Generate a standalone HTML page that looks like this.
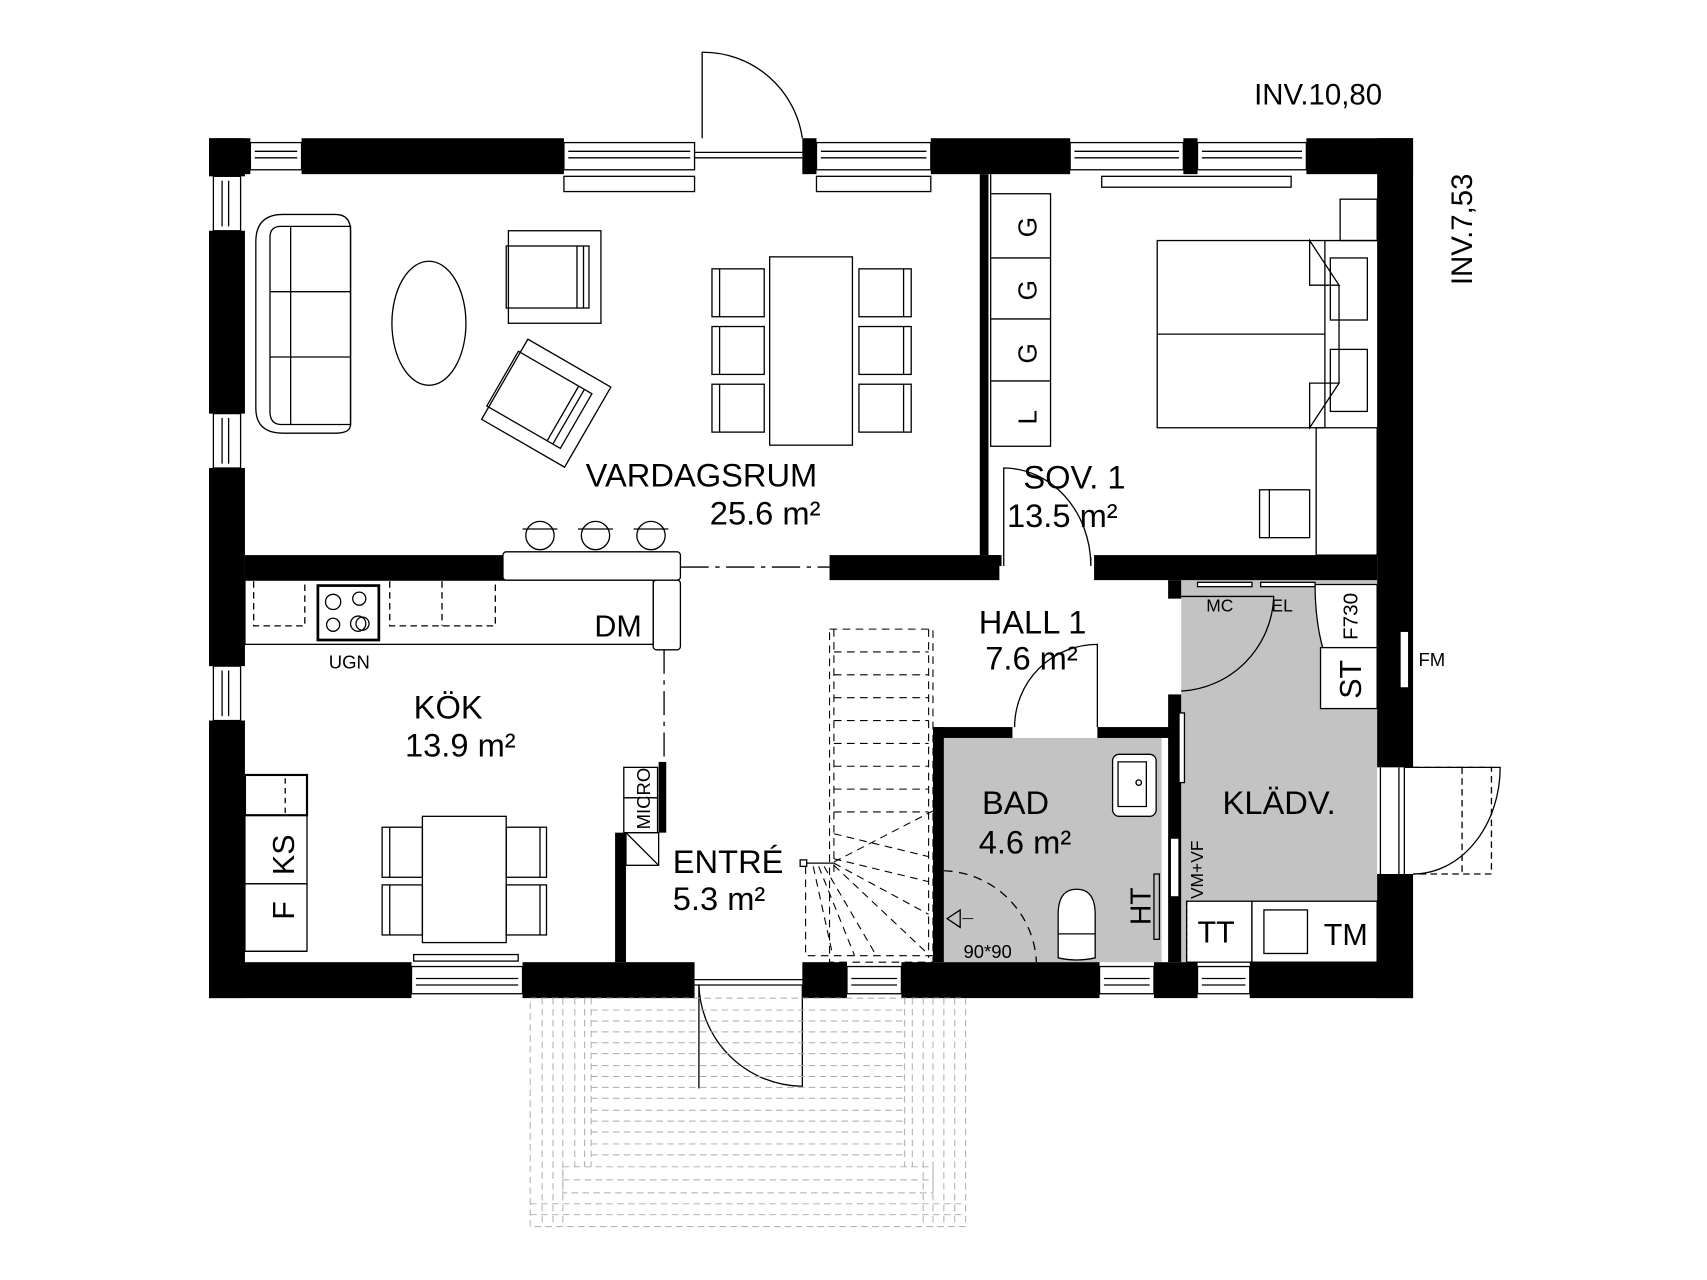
<!DOCTYPE html>
<html><head><meta charset="utf-8"><style>
html,body{margin:0;padding:0;background:#fff;}
svg{display:block;}
text{font-family:"Liberation Sans Narrow","Liberation Sans",sans-serif;fill:#000;}
</style></head><body>
<svg width="1707" height="1280" viewBox="0 0 1568 1176" preserveAspectRatio="none" xmlns="http://www.w3.org/2000/svg">
<g fill="none" stroke="#000" stroke-width="1.2">

<!-- gray areas -->
<rect x="867" y="678" width="200" height="206" fill="#c3c3c3" stroke="none"/>
<rect x="1085" y="533" width="180" height="351" fill="#c3c3c3" stroke="none"/>

<!-- outer walls -->
<g fill="#000" stroke="none">
<!-- top -->
<rect x="192" y="127" width="38" height="33"/>
<rect x="277" y="127" width="241" height="33"/>
<rect x="737" y="127" width="13" height="33"/>
<rect x="855" y="127" width="128" height="33"/>
<rect x="1087" y="127" width="13" height="33"/>
<rect x="1200" y="127" width="98" height="33"/>
<!-- left -->
<rect x="192" y="127" width="33" height="35"/>
<rect x="192" y="212" width="33" height="168"/>
<rect x="192" y="430" width="33" height="182"/>
<rect x="192" y="662" width="33" height="255"/>
<!-- right -->
<rect x="1265" y="127" width="33" height="578"/>
<rect x="1265" y="803" width="33" height="114"/>
<!-- bottom -->
<rect x="192" y="884" width="186" height="33"/>
<rect x="480" y="884" width="158" height="33"/>
<rect x="737" y="884" width="41" height="33"/>
<rect x="828" y="884" width="182" height="33"/>
<rect x="1060" y="884" width="40" height="33"/>
<rect x="1148" y="884" width="150" height="33"/>
<!-- interior -->
<rect x="900" y="160" width="8" height="350"/>
<rect x="225" y="510" width="237" height="23"/>
<rect x="762" y="510" width="156" height="23"/>
<rect x="1005" y="510" width="260" height="23"/>
<rect x="908" y="510" width="12" height="10"/>
<rect x="1073" y="533" width="12" height="17"/>
<rect x="1073" y="638" width="12" height="246"/>
<rect x="857" y="668" width="10" height="216"/>
<rect x="857" y="668" width="73" height="10"/>
<rect x="1008" y="668" width="67" height="10"/>
<rect x="605" y="700" width="7" height="65"/>
<rect x="565" y="765" width="10" height="119"/>
</g>
<rect x="1286" y="580" width="8" height="52" fill="#fff"/>
<rect x="1075" y="770" width="8" height="54" fill="#fff"/>
<rect x="1083" y="655" width="5" height="64" fill="#fff"/>

<!-- windows top -->
<g>
<rect x="230" y="131" width="47" height="25"/><line x1="234" y1="139" x2="273" y2="139"/><line x1="234" y1="145" x2="273" y2="145"/>
<rect x="518" y="131" width="120" height="25"/><line x1="522" y1="139" x2="634" y2="139"/><line x1="522" y1="145" x2="634" y2="145"/>
<rect x="750" y="131" width="105" height="25"/><line x1="754" y1="139" x2="851" y2="139"/><line x1="754" y1="145" x2="851" y2="145"/>
<rect x="983" y="131" width="104" height="25"/><line x1="987" y1="139" x2="1083" y2="139"/><line x1="987" y1="145" x2="1083" y2="145"/>
<rect x="1100" y="131" width="100" height="25"/><line x1="1104" y1="139" x2="1196" y2="139"/><line x1="1104" y1="145" x2="1196" y2="145"/>
<line x1="638" y1="140" x2="737" y2="140"/><line x1="638" y1="145" x2="737" y2="145"/>
<!-- sills -->
<rect x="518" y="162" width="120" height="14"/>
<rect x="750" y="162" width="105" height="14"/>
<rect x="1012" y="162" width="174" height="10"/>
<!-- left windows -->
<rect x="196" y="162" width="25" height="50"/><line x1="204" y1="166" x2="204" y2="208"/><line x1="210" y1="166" x2="210" y2="208"/>
<rect x="196" y="380" width="25" height="50"/><line x1="204" y1="384" x2="204" y2="426"/><line x1="210" y1="384" x2="210" y2="426"/>
<rect x="196" y="612" width="25" height="50"/><line x1="204" y1="616" x2="204" y2="658"/><line x1="210" y1="616" x2="210" y2="658"/>
<!-- bottom windows -->
<rect x="378" y="888" width="102" height="25"/><line x1="382" y1="899" x2="476" y2="899"/><line x1="382" y1="905" x2="476" y2="905"/>
<rect x="778" y="888" width="50" height="25"/><line x1="782" y1="899" x2="824" y2="899"/><line x1="782" y1="905" x2="824" y2="905"/>
<rect x="1010" y="888" width="50" height="25"/><line x1="1014" y1="899" x2="1056" y2="899"/><line x1="1014" y1="905" x2="1056" y2="905"/>
<rect x="1100" y="888" width="48" height="25"/><line x1="1104" y1="899" x2="1144" y2="899"/><line x1="1104" y1="905" x2="1144" y2="905"/>
<rect x="380" y="877" width="96" height="6"/>
<line x1="638" y1="900" x2="737" y2="900"/><line x1="638" y1="905" x2="737" y2="905"/>
<!-- right door -->
<line x1="1268" y1="705" x2="1268" y2="803"/><line x1="1285" y1="705" x2="1285" y2="803"/><line x1="1290" y1="705" x2="1290" y2="803"/>
</g>

<!-- doors -->
<path d="M645 127 V48 A92 92 0 0 1 737 127"/>
<path d="M642 905 V1000 ... "/>
<path d="M642 905 A96 96 0 0 0 737 998 V905"/>
<path d="M1298 803 A80 98 0 0 0 1378 705 H1290" stroke-dasharray="0"/>
<path d="M1298 705 H1370 V803 H1298" stroke-dasharray="6 4"/>
<line x1="1343" y1="705" x2="1343" y2="803" stroke-dasharray="6 4"/>
<path d="M922 520 V430 A80 90 0 0 1 1002 518"/>
<line x1="1002" y1="512" x2="1002" y2="520"/>
<path d="M1085 635 A90 90 0 0 0 1170 548 H1085"/>
<path d="M932 668 A76 76 0 0 1 1008 592 V668"/>
<path d="M867 800 A88 88 0 0 1 952 884" stroke-dasharray="8 6"/>
<path d="M882 836 L870 844 L882 852 Z"/><line x1="884" y1="844" x2="894" y2="844" stroke-width="0.8"/>

<!-- living room furniture -->
<path d="M260 197 H308 Q322 197 322 212 V390 Q322 398 308 398 H260 Q235 398 235 375 V222 Q235 197 260 197 Z"/>
<path d="M258 208 H322 V390 H258 Q248 390 248 378 V218 Q248 208 258 208 Z"/>
<line x1="267" y1="208" x2="267" y2="390"/>
<line x1="248" y1="268" x2="322" y2="268"/><line x1="248" y1="328" x2="322" y2="328"/>
<ellipse cx="394" cy="297" rx="34" ry="57"/>
<rect x="467" y="212" width="85" height="85"/>
<rect x="465" y="226" width="76" height="57"/>
<line x1="530" y1="226" x2="530" y2="283"/><line x1="536" y1="226" x2="536" y2="283"/>
<g transform="rotate(30 502 370)">
<rect x="458" y="328" width="88" height="85"/>
<rect x="456" y="342" width="78" height="58"/>
<line x1="520" y1="342" x2="520" y2="400"/><line x1="526" y1="342" x2="526" y2="400"/>
</g>
<rect x="707" y="236" width="76" height="173"/>
<g>
<rect x="654" y="247" width="48" height="44"/><line x1="654" y1="256" x2="702" y2="256" transform="rotate(90 0 0) translate(0 0)" stroke="none"/>
<rect x="654" y="300" width="48" height="44"/>
<rect x="654" y="353" width="48" height="44"/>
<rect x="789" y="247" width="48" height="44"/>
<rect x="789" y="300" width="48" height="44"/>
<rect x="789" y="353" width="48" height="44"/>
<line x1="661" y1="247" x2="661" y2="291"/><line x1="661" y1="300" x2="661" y2="344"/><line x1="661" y1="353" x2="661" y2="397"/>
<line x1="830" y1="247" x2="830" y2="291"/><line x1="830" y1="300" x2="830" y2="344"/><line x1="830" y1="353" x2="830" y2="397"/>
</g>
<!-- bar stools -->
<circle cx="496" cy="492" r="13"/><circle cx="547" cy="492" r="13"/><circle cx="598" cy="492" r="13"/>
<line x1="480" y1="486" x2="512" y2="486"/><line x1="531" y1="486" x2="563" y2="486"/><line x1="582" y1="486" x2="614" y2="486"/>
<rect x="462" y="507" width="163" height="26" rx="3" fill="#fff"/>
<line x1="625" y1="521" x2="762" y2="521" stroke-dasharray="26 6 4 6"/>

<!-- bedroom -->
<rect x="910" y="178" width="55" height="232"/>
<line x1="910" y1="237" x2="965" y2="237"/><line x1="910" y1="293" x2="965" y2="293"/><line x1="910" y1="350" x2="965" y2="350"/>
<line x1="910" y1="160" x2="910" y2="178"/>
<rect x="1063" y="221" width="154" height="172"/>
<line x1="1063" y1="307" x2="1217" y2="307"/>
<path d="M1203 221 L1230 262 H1203 Z"/><path d="M1203 393 L1230 352 H1203 Z"/>
<line x1="1230" y1="262" x2="1230" y2="352"/>
<rect x="1231" y="183" width="34" height="38"/>
<rect x="1222" y="237" width="34" height="57"/>
<rect x="1222" y="321" width="34" height="57"/>
<line x1="1217" y1="221" x2="1265" y2="221"/>
<rect x="1209" y="393" width="56" height="117"/>
<rect x="1157" y="450" width="46" height="44"/><line x1="1166" y1="450" x2="1166" y2="494"/>

<!-- kitchen -->
<rect x="225" y="533" width="375" height="59"/>
<rect x="600" y="533" width="25" height="64" rx="3"/>
<rect x="292" y="538" width="56" height="50" stroke-width="2.5"/>
<circle cx="306" cy="553" r="7"/><circle cx="330" cy="550" r="6"/><circle cx="306" cy="574" r="6"/><circle cx="329" cy="573" r="7"/><circle cx="333" cy="573" r="6"/>
<path d="M233 534 V575 H280 V534" stroke-dasharray="6 4"/>
<path d="M358 534 V575 H455 V534" stroke-dasharray="6 4"/><line x1="406" y1="534" x2="406" y2="575" stroke-dasharray="6 4"/>
<line x1="610" y1="597" x2="610" y2="700" stroke-dasharray="22 6 4 6"/>
<rect x="225" y="712" width="57" height="37" stroke-width="2"/><line x1="262" y1="715" x2="262" y2="749" stroke-dasharray="5 4"/>
<rect x="225" y="749" width="57" height="63"/>
<rect x="225" y="812" width="57" height="62"/>
<line x1="225" y1="874" x2="282" y2="874"/>
<rect x="388" y="750" width="77" height="116"/>
<rect x="351" y="760" width="37" height="46"/><rect x="351" y="813" width="37" height="46"/>
<rect x="465" y="760" width="37" height="46"/><rect x="465" y="813" width="37" height="46"/>
<line x1="358" y1="760" x2="358" y2="806"/><line x1="358" y1="813" x2="358" y2="859"/>
<line x1="496" y1="760" x2="496" y2="806"/><line x1="496" y1="813" x2="496" y2="859"/>
<rect x="573" y="705" width="31" height="28"/><rect x="573" y="733" width="31" height="32"/>
<rect x="575" y="765" width="30" height="30"/><line x1="575" y1="765" x2="605" y2="795"/>

<!-- stairs -->
<g stroke-dasharray="7 5" stroke-width="1">
<rect x="762" y="578" width="95" height="306"/>
<line x1="766" y1="578" x2="766" y="0" y2="803"/>
<line x1="853" y1="578" x2="853" y2="880"/>
<line x1="766" y1="599" x2="853" y2="599"/><line x1="766" y1="620" x2="853" y2="620"/>
<line x1="766" y1="641" x2="853" y2="641"/><line x1="766" y1="662" x2="853" y2="662"/>
<line x1="766" y1="683" x2="853" y2="683"/><line x1="766" y1="704" x2="853" y2="704"/>
<line x1="766" y1="725" x2="853" y2="725"/><line x1="766" y1="746" x2="853" y2="746"/>
<line x1="766" y1="766" x2="853" y2="787"/><line x1="766" y1="789" x2="853" y2="810"/>
<line x1="766" y1="793" x2="853" y2="840"/><line x1="766" y1="795" x2="853" y2="877"/>
<line x1="757" y1="796" x2="805" y2="878"/><line x1="752" y1="796" x2="785" y2="878"/>
<line x1="747" y1="796" x2="765" y2="878"/>
<line x1="766" y1="792" x2="857" y2="745"/>
<path d="M740 796 V878 H857"/>
</g>
<rect x="735" y="790" width="6" height="6"/>
<line x1="741" y1="793" x2="766" y2="793"/>

<!-- terrace -->
<g stroke="#aaa" stroke-width="0.9" stroke-dasharray="6 4">
<rect x="487" y="917" width="400" height="210"/>
<rect x="517" y="1072" width="340" height="24"/>
<line x1="543" y1="917" x2="543" y2="1072"/><line x1="831" y1="917" x2="831" y2="1072"/>
<line x1="498" y1="917" x2="498" y2="1127"/><line x1="508" y1="917" x2="508" y2="1127"/><line x1="517" y1="917" x2="517" y2="1127"/><line x1="528" y1="917" x2="528" y2="1072"/><line x1="537" y1="917" x2="537" y2="1072"/>
<line x1="838" y1="917" x2="838" y2="1072"/><line x1="848" y1="917" x2="848" y2="1127"/><line x1="857" y1="917" x2="857" y2="1127"/><line x1="867" y1="917" x2="867" y2="1127"/><line x1="877" y1="917" x2="877" y2="1127"/>
<line x1="543" y1="928" x2="831" y2="928"/><line x1="543" y1="938" x2="831" y2="938"/><line x1="543" y1="948" x2="831" y2="948"/><line x1="543" y1="958" x2="831" y2="958"/>
<line x1="543" y1="968" x2="831" y2="968"/><line x1="543" y1="979" x2="831" y2="979"/><line x1="543" y1="989" x2="831" y2="989"/><line x1="543" y1="999" x2="831" y2="999"/>
<line x1="543" y1="1009" x2="831" y2="1009"/><line x1="543" y1="1020" x2="831" y2="1020"/><line x1="543" y1="1030" x2="831" y2="1030"/><line x1="543" y1="1040" x2="831" y2="1040"/>
<line x1="543" y1="1051" x2="831" y2="1051"/><line x1="543" y1="1061" x2="831" y2="1061"/><line x1="517" y1="1084" x2="857" y2="1084"/>
<line x1="487" y1="1106" x2="887" y2="1106"/><line x1="487" y1="1116" x2="887" y2="1116"/>
</g>

<!-- bath -->
<rect x="1022" y="693" width="40" height="57" rx="6" fill="#fff"/>
<path d="M1027 700 H1053 V741 H1027 Z"/><circle cx="1046" cy="719" r="2.5"/>
<path d="M972 880 V840 Q972 817 989 817 Q1006 817 1006 840 V880 Q989 884 972 880 Z" fill="#fff"/>
<line x1="972" y1="858" x2="1006" y2="858"/>
<rect x="1060" y="803" width="5" height="60"/>
<!-- klädv -->
<rect x="1090" y="828" width="60" height="56" fill="#fff"/>
<rect x="1150" y="828" width="115" height="56" fill="#fff"/>
<rect x="1161" y="836" width="40" height="40"/>
<path d="M1208 537 H1265 V595 H1215 Q1208 570 1208 537 Z" fill="#fff"/>
<rect x="1213" y="595" width="52" height="56" fill="#fff"/>
<rect x="1100" y="535" width="50" height="4" fill="#fff"/><rect x="1158" y="535" width="50" height="4" fill="#fff"/>
<line x1="1090" y1="828" x2="1090" y2="884" stroke-dasharray="4 3"/>
</g>

<!-- labels -->
<text x="1152" y="96" font-size="27">INV.10,80</text>
<text transform="translate(1352 262) rotate(-90)" font-size="27">INV.7,53</text>
<text x="538" y="447" font-size="30">VARDAGSRUM</text>
<text x="652" y="482" font-size="30">25.6 m²</text>
<text x="940" y="449" font-size="30">SOV. 1</text>
<text x="925" y="484" font-size="30">13.5 m²</text>
<text x="899" y="582" font-size="30">HALL 1</text>
<text x="905" y="615" font-size="30">7.6 m²</text>
<text x="380" y="660" font-size="30">KÖK</text>
<text x="372" y="695" font-size="30">13.9 m²</text>
<text x="546" y="585" font-size="28">DM</text>
<text x="302" y="614" font-size="17">UGN</text>
<text x="618" y="802" font-size="30">ENTRÉ</text>
<text x="618" y="836" font-size="30">5.3 m²</text>
<text x="902" y="748" font-size="30">BAD</text>
<text x="899" y="784" font-size="30">4.6 m²</text>
<text x="1123" y="748" font-size="30">KLÄDV.</text>
<text x="1108" y="562" font-size="16">MC</text>
<text x="1168" y="562" font-size="16">EL</text>
<text x="1303" y="612" font-size="17">FM</text>
<text x="885" y="880" font-size="17">90*90</text>
<text x="1100" y="866" font-size="28">TT</text>
<text x="1216" y="868" font-size="28">TM</text>
<text transform="translate(1250 642) rotate(-90)" font-size="28">ST</text>
<text transform="translate(1247 588) rotate(-90)" font-size="19">F730</text>
<text transform="translate(1105 826) rotate(-90)" font-size="16">VM+VF</text>
<text transform="translate(1057 850) rotate(-90)" font-size="26">HT</text>
<text transform="translate(270 804) rotate(-90)" font-size="28">KS</text>
<text transform="translate(270 845) rotate(-90)" font-size="28">F</text>
<text transform="translate(597 762) rotate(-90)" font-size="17">MICRO</text>
<text transform="translate(952 218) rotate(-90)" font-size="24">G</text>
<text transform="translate(952 276) rotate(-90)" font-size="24">G</text>
<text transform="translate(952 334) rotate(-90)" font-size="24">G</text>
<text transform="translate(952 390) rotate(-90)" font-size="24">L</text>
</svg>
</body></html>
